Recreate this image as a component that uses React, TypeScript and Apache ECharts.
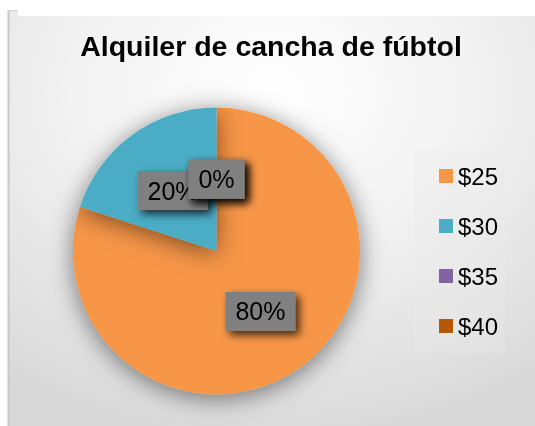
import React, { useEffect, useRef } from "react";
import * as echarts from "echarts";

const categories = ["$25", "$30", "$35", "$40"];
const values = [80, 20, 0, 0];
const colors = ["#F79646", "#4BACC6", "#8064A2", "#B65708"];
const titleText = "Alquiler de cancha de fúbtol";

const PIE_CENTER = [216.5, 251];
const PIE_RADIUS = 143.5;
const START_ANGLE = 90;
const FONT = "Liberation Sans, Arial, sans-serif";

const labelBox = {
  fontFamily: FONT,
  fontSize: 25,
  lineHeight: 25,
  backgroundColor: "#808080",
  padding: [7, 10, 7, 10],
  shadowColor: "rgba(0,0,0,0.75)",
  shadowBlur: 8,
  shadowOffsetX: 4,
  shadowOffsetY: 4,
};

export default function App() {
  const ref = useRef<HTMLDivElement>(null);
  useEffect(() => {
    if (!ref.current) return;
    const chart = echarts.init(ref.current, null, { renderer: "svg" });
    const total = values.reduce((a, b) => a + b, 0);
    const pct = (v: number) => `${Math.round((v / total) * 100)}%`;
    const data = categories.map((c, i) => ({
      name: c,
      value: values[i],
      itemStyle: { color: colors[i] },
    }));

    // ECharts drops labels of zero-width slices; place them like an "inside" label
    // at half radius on the slice's (zero-width) mid angle.
    const zeroLabels: any[] = [];
    let cum = 0;
    values.forEach((v) => {
      const mid = START_ANGLE - ((cum + v / 2) / total) * 360;
      cum += v;
      if (v !== 0) return;
      const rad = (mid * Math.PI) / 180;
      zeroLabels.push({
        type: "text",
        z: 100,
        silent: true,
        x: PIE_CENTER[0] + (PIE_RADIUS / 2) * Math.cos(rad),
        y: PIE_CENTER[1] - (PIE_RADIUS / 2) * Math.sin(rad),
        style: {
          ...labelBox,
          text: pct(v),
          fill: "#000000",
          align: "center",
          verticalAlign: "middle",
        },
      });
    });

    chart.setOption({
      animation: false,
      graphic: [
        {
          type: "rect",
          z: -10,
          silent: true,
          shape: { x: 9, y: 10, width: 526, height: 416 },
          style: {
            fill: new echarts.graphic.RadialGradient(0.5, 0.2, 0.85, [
              { offset: 0, color: "#ffffff" },
              { offset: 0.45, color: "#f2f2f2" },
              { offset: 1, color: "#d8d8d8" },
            ]),
          },
        },
        {
          type: "rect",
          z: -9,
          silent: true,
          shape: { x: 18, y: 0, width: 517, height: 16 },
          style: { fill: "#ffffff" },
        },
        {
          type: "line",
          z: -8,
          silent: true,
          shape: { x1: 8.5, y1: 10, x2: 8.5, y2: 426 },
          style: { stroke: "#c8c8c8", lineWidth: 2 },
        },
        {
          type: "line",
          z: -8,
          silent: true,
          shape: { x1: 8, y1: 10.5, x2: 17, y2: 10.5 },
          style: { stroke: "#d0d0d0", lineWidth: 1 },
        },
        {
          type: "rect",
          z: -7,
          silent: true,
          shape: { x: 414, y: 150, width: 91, height: 203 },
          style: { fill: "rgba(236,236,236,0.35)" },
        },
        ...zeroLabels,
      ],
      title: {
        text: titleText,
        left: 271,
        textAlign: "center",
        top: 31,
        padding: 0,
        textStyle: {
          fontFamily: FONT,
          fontWeight: "bold",
          fontSize: 28.5,
          color: "#000000",
        },
      },
      legend: {
        orient: "vertical",
        left: 439,
        top: 164,
        padding: 0,
        itemWidth: 14,
        itemHeight: 14,
        itemGap: 26,
        icon: "rect",
        textStyle: {
          fontFamily: FONT,
          fontSize: 24,
          lineHeight: 24,
          color: "#000000",
          padding: [0, 0, 0, 0],
        },
        data: categories,
      },
      series: [
        {
          type: "pie",
          center: PIE_CENTER,
          radius: PIE_RADIUS,
          startAngle: START_ANGLE,
          clockwise: true,
          avoidLabelOverlap: false,
          data,
          itemStyle: {
            shadowBlur: 24,
            shadowOffsetY: 4,
            shadowColor: "rgba(0,0,0,0.5)",
          },
          emphasis: { disabled: true },
          label: {
            show: true,
            position: "inside",
            formatter: (p: any) => pct(values[p.dataIndex]),
            color: "#000000",
            ...labelBox,
          },
          labelLine: { show: false },
        },
      ],
    });
    return () => chart.dispose();
  }, []);
  return (
    <div
      ref={ref}
      style={{ position: "fixed", left: 0, top: 0, width: 535, height: 426 }}
    />
  );
}
